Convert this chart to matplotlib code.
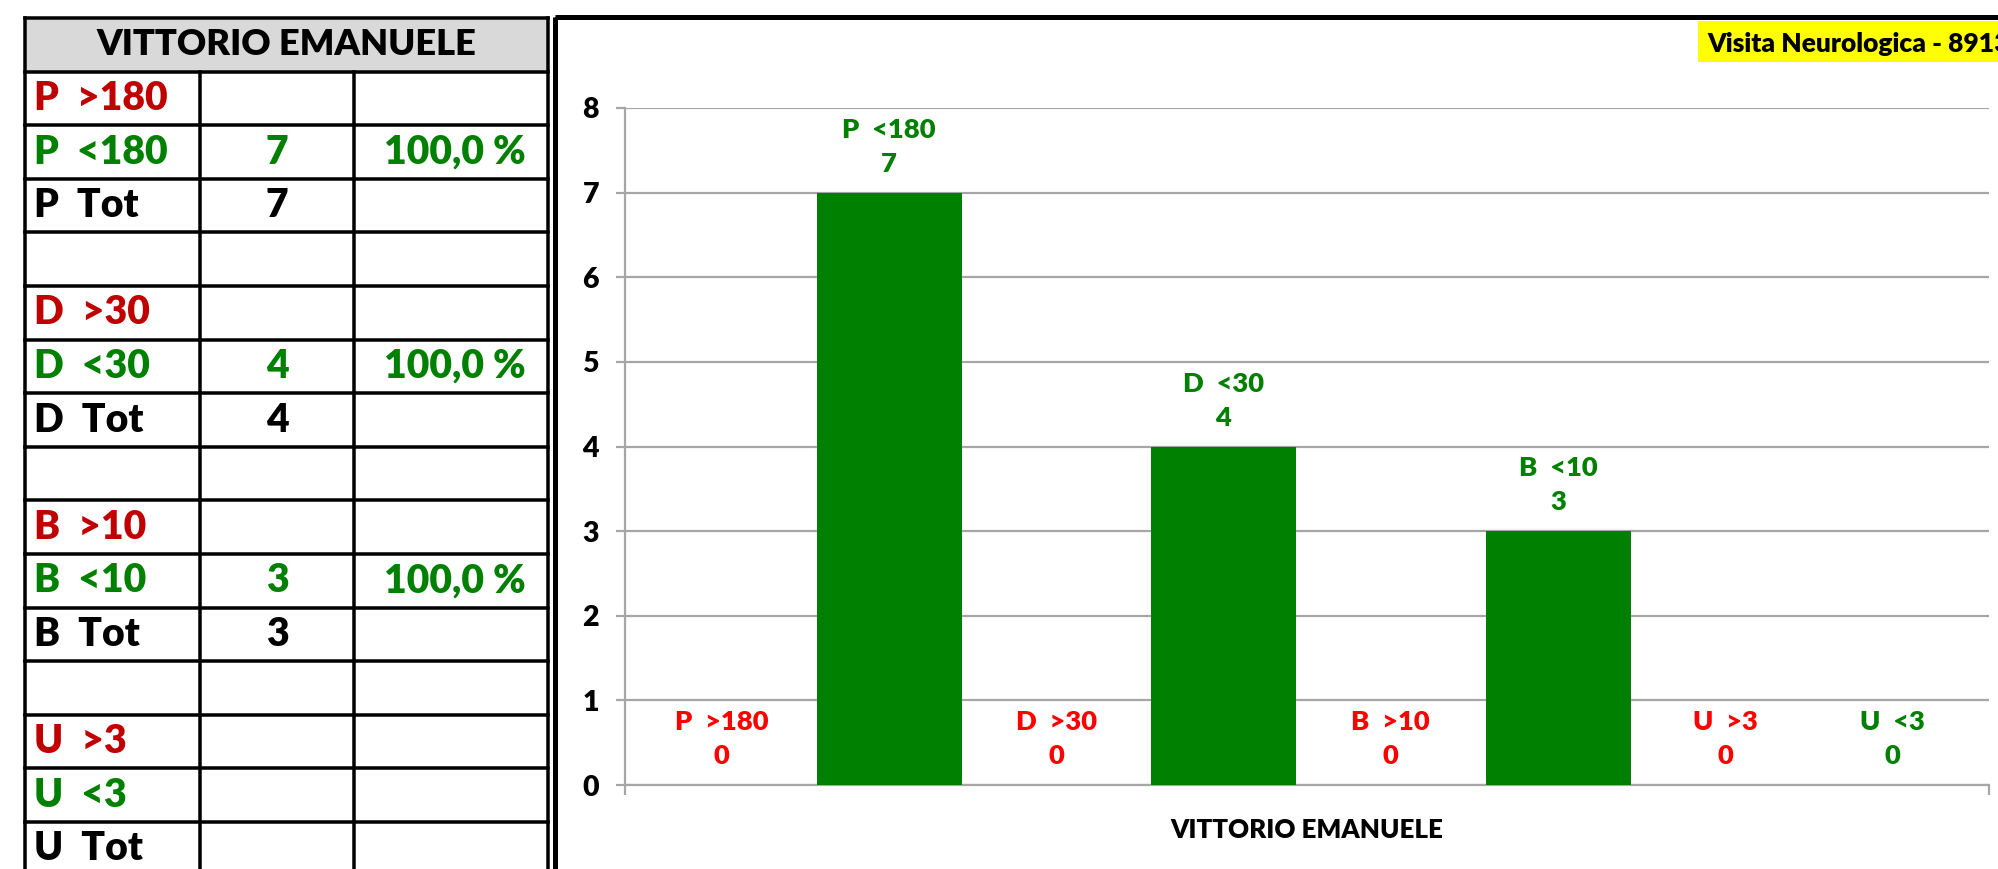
import matplotlib
matplotlib.use('Agg')
import matplotlib.pyplot as plt
from matplotlib.font_manager import FontProperties
from matplotlib.textpath import TextPath
from matplotlib.patches import Rectangle
from matplotlib.lines import Line2D

FONT = 'Lato'
WEIGHT = 'heavy'
plt.rcParams['font.family'] = [FONT, 'DejaVu Sans']

# ---------------- data ----------------
category = 'VITTORIO EMANUELE'
series_names = ['P  >180', 'P  <180', 'D  >30', 'D  <30', 'B  >10', 'B  <10', 'U  >3', 'U  <3']
series_values = [0, 7, 0, 4, 0, 3, 0, 0]
y_ticks = [0, 1, 2, 3, 4, 5, 6, 7, 8]

table_title = 'VITTORIO EMANUELE'
table_labels = ['P  >180', 'P  <180', 'P  Tot', '',
                'D  >30', 'D  <30', 'D  Tot', '',
                'B  >10', 'B  <10', 'B  Tot', '',
                'U  >3', 'U  <3', 'U  Tot']
table_counts = ['', '7', '7', '',
                '', '4', '4', '',
                '', '3', '3', '',
                '', '', '']
table_percents = ['', '100,0 %', '', '',
                  '', '100,0 %', '', '',
                  '', '100,0 %', '', '',
                  '', '', '']
chart_note = 'Visita Neurologica - 8913'

# ---------------- style ----------------
GREEN = '#008000'
RED_CHART = '#FF0000'
RED_TABLE = '#C00000'
GRID = '#A6A6A6'

W, H = 1999, 869
DPI = 100
fig = plt.figure(figsize=(W / DPI, H / DPI), dpi=DPI)


def fit_size(text, target_px, weight=WEIGHT):
    fp = FontProperties(family=FONT, weight=weight)
    tp = TextPath((0, 0), text, size=100, prop=fp)
    w = tp.get_extents().width
    return target_px / (w / 100.0) * 72.0 / DPI


def px(v):
    return v * 72.0 / DPI


# ---------------- chart axes ----------------
ax_l, ax_r, ax_t, ax_b = 625, 1989, 108, 785
ax = fig.add_axes([ax_l / W, 1 - ax_b / H, (ax_r - ax_l) / W, (ax_b - ax_t) / H])

slot = 167.25
first_c = 721.75
xl = (ax_l - first_c) / slot
xr = (ax_r - first_c) / slot
xs = list(range(len(series_names)))

ax.bar(xs, series_values, width=145 / slot, color=GREEN, zorder=3)
ax.set_xlim(xl, xr)
ax.set_ylim(0, 8)
ax.set_yticks(y_ticks)

lab_fs = fit_size('P  <180', 91)
for x, name, v in zip(xs, series_names, series_values):
    col = RED_CHART if '>' in name else GREEN
    ax.annotate(name, (x, v), xytext=(0, 63), textcoords='offset pixels',
                ha='center', va='center', fontsize=lab_fs, fontweight=WEIGHT, color=col, zorder=4)
    ax.annotate(str(v), (x, v), xytext=(0, 29), textcoords='offset pixels',
                ha='center', va='center', fontsize=lab_fs, fontweight=WEIGHT, color=col, zorder=4)

ax.yaxis.grid(True, color=GRID, linewidth=px(2.2), zorder=0)
ax.set_axisbelow(True)
for s in ['top', 'right']:
    ax.spines[s].set_visible(False)
for s in ['left', 'bottom']:
    ax.spines[s].set_color(GRID)
    ax.spines[s].set_linewidth(px(2.2))

ax.tick_params(axis='y', which='major', length=px(9), width=px(2.2), color=GRID,
               pad=px(17), labelsize=20.5, labelcolor='black')
for t in ax.get_yticklabels():
    t.set_fontweight(WEIGHT)

ax.set_xticks([(xl + xr) / 2])
ax.set_xticklabels([category], fontsize=fit_size(category, 272), fontweight=WEIGHT)
ax.set_xticks([xl, xr], minor=True)
ax.tick_params(axis='x', which='major', length=0, pad=px(33))
ax.tick_params(axis='x', which='minor', length=px(10), width=px(2.2), color=GRID, direction='out')

# ---------------- overlay (table, frame, note) ----------------
oax = fig.add_axes([0, 0, 1, 1], zorder=5)
oax.set_xlim(0, W)
oax.set_ylim(H, 0)
oax.axis('off')
oax.patch.set_alpha(0)

# chart area frame
oax.add_patch(Rectangle((555, 17), W, H, fill=False, ec='black', lw=px(5)))

# note box
oax.add_patch(Rectangle((1698, 21), 400, 41, fc='#FFFF00', ec='none'))
oax.text(1707, 41.5, chart_note, ha='left', va='center_baseline',
         fontsize=fit_size('Visita Neurologica - 891', 287), fontweight=WEIGHT, color='black')

# table
cols = [25, 200, 354, 548]
top = 18
rh = 53.6
nrows = len(table_labels) + 1
bottom = top + nrows * rh
oax.add_patch(Rectangle((cols[0], top), cols[-1] - cols[0], rh, fc='#D9D9D9', ec='none'))
lw_t = px(3.5)
for k in range(nrows + 1):
    y = top + k * rh
    oax.add_line(Line2D([cols[0], cols[-1]], [y, y], color='black', lw=lw_t))
oax.add_line(Line2D([cols[0], cols[0]], [top, bottom], color='black', lw=lw_t))
oax.add_line(Line2D([cols[-1], cols[-1]], [top, bottom], color='black', lw=lw_t))
for c in cols[1:-1]:
    oax.add_line(Line2D([c, c], [top + rh, bottom], color='black', lw=lw_t))

oax.text((cols[0] + cols[-1]) / 2, top + rh / 2, table_title, ha='center', va='center',
         fontsize=fit_size(table_title, 380), fontweight=WEIGHT, color='black')

cell_fs = (fit_size('100,0 %', 140) + fit_size('P  >180', 129)) / 2
for i, (lab, cnt, pct) in enumerate(zip(table_labels, table_counts, table_percents)):
    yc = top + (i + 1.5) * rh
    col = RED_TABLE if '>' in lab else (GREEN if '<' in lab else 'black')
    if lab:
        oax.text(34, yc, lab, ha='left', va='center', fontsize=cell_fs, fontweight=WEIGHT, color=col)
    if cnt:
        oax.text(277, yc, cnt, ha='center', va='center', fontsize=cell_fs, fontweight=WEIGHT, color=col)
    if pct:
        oax.text(455, yc, pct, ha='center', va='center', fontsize=cell_fs, fontweight=WEIGHT, color=col)

fig.savefig('out.png', dpi=DPI)
